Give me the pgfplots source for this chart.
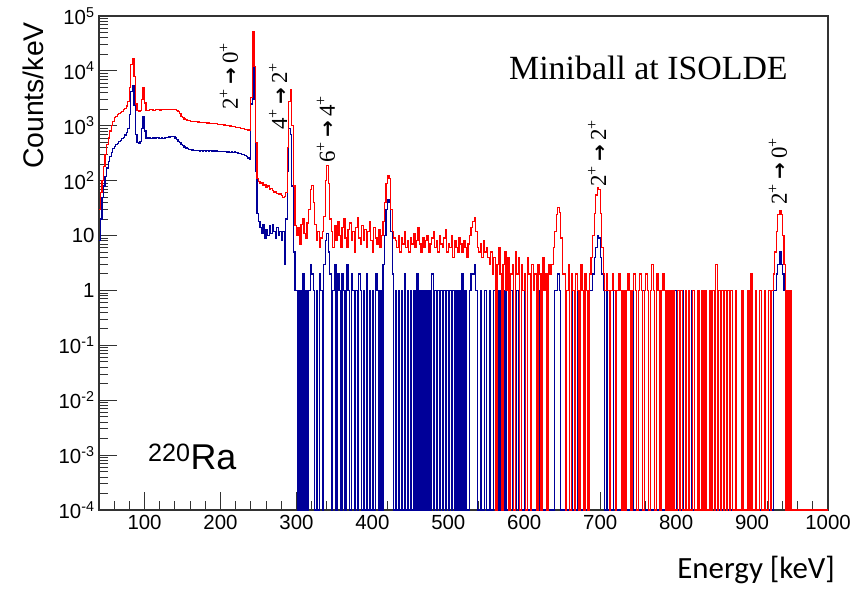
\documentclass[border=0pt]{standalone}
\usepackage{fontspec}
\setmainfont{Liberation Sans}
\newfontfamily\serif{Liberation Serif}
\newfontfamily\calibri{Carlito}
\newfontfamily\dejavu{DejaVu Sans}
\usepackage{pgfplots}
\usepackage{pgfplotstable}
\pgfplotsset{compat=1.18}
\definecolor{rootred}{RGB}{255,0,0}
\definecolor{rootblue}{RGB}{0,0,153}
\definecolor{frame}{RGB}{50,50,50}
\newcommand{\tr}[2]{#1\textsuperscript{+}\hspace{0.18em}{\dejavu\bfseries\fontsize{20}{20}\selectfont →}\hspace{0.18em}#2\textsuperscript{+}}
\pgfplotstableread{
x r b
40 30 8
42 60 20
44 100 50
46 180 80
48 300 120
50 450 170
52 600 220
54 800 280
56 1000 330
58 1200 380
60 1400 420
62 1500 450
64 1600 480
66 1650 510
68 1750 540
70 1850 580
72 1950 620
74 2050 680
76 2300 760
78 2800 900
80 5000 1600
82 13000 4200
84 17000 5300
86 8000 2400
88 2500 700
90 1900 500
92 1800 480
94 1900 520
96 3000 900
98 5000 1450
100 2600 800
102 1900 600
104 1900 600
106 1950 610
108 1960 590
110 1940 620
112 1920 600
114 1950 590
116 1980 610
118 1960 600
120 1940 580
122 1970 610
124 1990 590
126 2000 600
128 1980 615
130 2010 605
132 2000 625
134 2010 640
136 1990 645
138 1980 630
140 1960 600
142 1900 565
144 1800 525
146 1660 490
148 1500 460
150 1400 430
152 1330 410
154 1290 395
156 1260 385
158 1235 375
160 1215 368
162 1200 362
164 1195 355
166 1185 358
168 1180 350
170 1170 356
172 1165 345
174 1150 352
176 1160 348
178 1140 355
180 1135 342
182 1120 350
184 1125 345
186 1110 352
188 1100 340
190 1095 348
192 1085 338
194 1090 346
196 1070 340
198 1060 345
200 1055 335
202 1040 342
204 1030 336
206 1020 340
208 1015 332
210 1000 338
212 990 330
214 980 335
216 970 328
218 955 332
220 945 325
222 930 320
224 920 315
226 905 310
228 890 302
230 880 295
232 865 285
234 850 272
236 840 258
238 825 240
240 3300 2500
242 52000 17000
244 12000 3000
246 500 150
248 110 25
250 95 18
252 90 14
254 92 11
256 82 16
258 86 9
260 76 13
262 80 10
264 70 15
266 72 11
268 66 16
270 62 12
272 64 9
274 58 14
276 56 10
278 57 12
280 53 8
282 50 12
284 52 3
286 60 20
288 400 150
290 2800 900
292 4500 700
294 1000 80
296 80 5
298 15 1
300 10 1
302 14 1e-4
304 7 1
306 16 1e-4
308 20 2
310 11 1e-4
312 9 1
314 17 1e-4
316 30 1
318 70 3
320 83 2
322 40 1
324 16 1e-4
326 8 1
328 12 1e-4
330 6 2
332 9 1
334 12 1e-4
336 22 3
338 100 8
340 190 11
342 90 5
344 20 2
346 12 1e-4
348 6 1
350 15 3
352 8 1e-4
354 18 2
356 10 1
358 6 1e-4
360 14 2
362 20 1
364 9 1e-4
366 6 3
368 13 1
370 17 1e-4
372 8 2
374 12 1
376 5 1e-4
378 14 1
380 21 1e-4
382 9 2
384 7 1
386 15 1e-4
388 8 1
390 13 1e-4
392 6 2
394 12 1e-4
396 18 1
398 8 1e-4
400 5 1
402 14 1e-4
404 9 2
406 7 1
408 13 1e-4
410 6 1
412 10 1e-4
414 18 3
416 40 10
418 90 30
420 125 45
422 110 40
424 30 12
426 12 2
428 9 1e-4
430 8 1
432 6 1e-4
434 10 1
436 5 1e-4
438 9 1
440 7 1e-4
442 12 2
444 6 1e-4
446 8 1
448 5 1e-4
450 9 1
452 7 1e-4
454 11 1
456 6 1e-4
458 8 2
460 14 1e-4
462 7 1
464 5 1e-4
466 9 1
468 6 1e-4
470 8 1
472 10 1e-4
474 5 1
476 7 1e-4
478 9 2
480 12 1e-4
482 6 1
484 8 1e-4
486 5 1
488 10 1e-4
490 7 1
492 6 1e-4
494 9 1
496 13 1e-4
498 5 1
500 7 1e-4
502 6 1
504 10 1e-4
506 4 1
508 8 1e-4
510 6 1
512 5 1e-4
514 9 1
516 7 1e-4
518 5 2
520 8 1e-4
522 6 1
524 4 1e-4
526 7 1e-4
528 10 1
530 14 2
532 18 2
534 21 3
536 12 1
538 6 1e-4
540 5 1e-4
542 7 1
544 4 1e-4
546 8 1e-4
548 5 1
550 6 1e-4
552 4 1e-4
554 3 1
556 5 1e-4
558 2 1e-4
560 4 1
562 1e-4 1e-4
564 3 1e-4
566 6 1
568 2 1e-4
570 1e-4 1e-4
572 3 1e-4
574 5 1
576 1 1e-4
578 4 1e-4
580 1e-4 1e-4
582 2 1
584 3 1e-4
586 1e-4 1e-4
588 5 1e-4
590 2 1
592 4 1e-4
594 1e-4 1e-4
596 3 1e-4
598 1 1e-4
600 2 1
602 1e-4 1e-4
604 4 1e-4
606 2 1e-4
608 1e-4 1
610 3 1e-4
612 1 1e-4
614 2 1e-4
616 1e-4 1e-4
618 3 1
620 2 1e-4
622 1e-4 1e-4
624 4 1e-4
626 1 1e-4
628 2 1e-4
630 1e-4 1
632 3 1e-4
634 2 1e-4
636 3 1e-4
638 6 1e-4
640 12 1
642 24 1
644 32 2
646 26 1
648 9 1e-4
650 2 1e-4
652 2 1e-4
654 1e-4 1
656 1 1e-4
658 3 1e-4
660 1e-4 1e-4
662 2 1
664 1 1e-4
666 1e-4 1e-4
668 2 1e-4
670 1 1
672 1e-4 1e-4
674 3 1e-4
676 1 1e-4
678 1e-4 1
680 2 1e-4
682 1 1e-4
684 1e-4 1e-4
686 2 1
688 4 1
690 10 2
692 25 4
694 55 6
696 74 10
698 70 9
700 25 4
702 6 2
704 2 1
706 1 1e-4
708 2 1
710 1 1e-4
712 1e-4 1e-4
714 1 1e-4
716 2 1e-4
718 1 1
720 1e-4 1e-4
722 1 1e-4
724 2 1e-4
726 1 1e-4
728 1e-4 1
730 1 1e-4
732 1e-4 1e-4
734 1 1e-4
736 2 1e-4
738 1 1e-4
740 1e-4 1e-4
742 1 1
744 2 1e-4
746 1 1e-4
748 1e-4 1e-4
750 1 1e-4
752 2 1e-4
754 1 1e-4
756 1e-4 1
758 1 1e-4
760 2 1e-4
762 1 1e-4
764 1e-4 1e-4
766 1 1e-4
768 3 1e-4
770 1 1e-4
772 1e-4 1e-4
774 2 1e-4
776 1 1e-4
778 1e-4 1e-4
780 1 1e-4
782 2 1e-4
784 1 1e-4
786 1e-4 1e-4
788 1 1e-4
790 1e-4 1
792 1 1e-4
794 1e-4 1e-4
796 1 1e-4
798 1e-4 1
800 1e-4 1e-4
802 1 1e-4
804 1e-4 1
806 1 1e-4
808 1e-4 1
810 1e-4 1e-4
812 1 1e-4
814 1e-4 1e-4
816 1 1e-4
818 1e-4 1e-4
820 1e-4 1
822 1 1e-4
824 1e-4 1e-4
826 1e-4 1e-4
828 1 1e-4
830 1e-4 1e-4
832 1e-4 1e-4
834 1 1e-4
836 1e-4 1e-4
838 1 1e-4
840 1e-4 1e-4
842 1e-4 1e-4
844 1 1e-4
846 1e-4 1e-4
848 1 1
850 1e-4 1e-4
852 3 1e-4
854 1e-4 1e-4
856 1 1e-4
858 1e-4 1e-4
860 1 1e-4
862 1e-4 1e-4
864 1 1
866 1e-4 1e-4
868 1 1e-4
870 1e-4 1e-4
872 1 1e-4
874 1e-4 1e-4
876 1e-4 1e-4
878 1 1e-4
880 1e-4 1e-4
882 1e-4 1e-4
884 1e-4 1e-4
886 1 1e-4
888 1e-4 1e-4
890 1e-4 1e-4
892 1e-4 1e-4
894 1 1e-4
896 1e-4 1e-4
898 2 1e-4
900 1e-4 1e-4
902 1e-4 1e-4
904 1 1e-4
906 1e-4 1e-4
908 1e-4 1e-4
910 1 1e-4
912 1e-4 1e-4
914 1e-4 1e-4
916 1 1e-4
918 1e-4 1e-4
920 1e-4 1e-4
922 1 1e-4
924 1e-4 1
926 1 1e-4
928 2 1
930 5 1
932 12 2
934 24 3
936 29 5
938 24 3
940 10 2
942 3 1
944 1e-4 1e-4
946 1 1e-4
948 1e-4 1
950 1 1e-4
952 1e-4 1e-4
960 1e-4 1e-4
980 1e-4 1e-4
1000 1e-4 1e-4
}\spec
\begin{document}
\begin{tikzpicture}
\useasboundingbox (-99bp,-79bp) rectangle (751bp,510bp);
\begin{axis}[
  at={(0,0)}, anchor=south west,
  scale only axis, width=729bp, height=494bp,
  xmin=40, xmax=1000,
  ymode=log, ymin=1e-4, ymax=1e5,
  xtick={100,200,...,1000},
  xticklabels={100,200,300,400,500,600,700,800,900,1000},
  minor xtick={40,60,...,980},
  ytick={1e-4,1e-3,1e-2,1e-1,1,10,100,1000,10000,100000},
  yticklabels={10\textsuperscript{-4},10\textsuperscript{-3},10\textsuperscript{-2},10\textsuperscript{-1},1,10,10\textsuperscript{2},10\textsuperscript{3},10\textsuperscript{4},10\textsuperscript{5}},
  xtick pos=bottom, ytick pos=left,
  tick align=inside,
  major tick length=18bp, minor tick length=9bp,
  every tick/.style={frame, line width=0.9bp},
  axis line style={frame, line width=1.3bp},
  tick label style={font=\fontsize{20.5}{20.5}\selectfont},
  xticklabel style={yshift=-2bp},
  yticklabel style={xshift=-1bp},
  clip=true,
]
\addplot[const plot, draw=rootblue, line width=1.2bp] table[x=x, y=b] {\spec};
\addplot[const plot, draw=rootred, line width=1.2bp] table[x=x, y=r] {\spec};
\end{axis}
\node[rotate=90, anchor=south east, inner sep=0pt, font=\fontsize{28.5}{28.5}\selectfont] at (-55bp,488bp) {Counts/keV};
\node[anchor=base east, inner sep=0pt, font=\calibri\fontsize{31}{31}\selectfont] at (736bp,-68bp) {Energy [keV]};
\node[anchor=base west, inner sep=0pt, font=\serif\fontsize{34}{34}\selectfont] at (410bp,430bp) {Miniball at ISOLDE};
\node[anchor=base west, inner sep=0pt, font=\fontsize{36}{36}\selectfont] at (49bp,40bp) {\textsuperscript{220}Ra};
\begin{scope}[every node/.style={rotate=90, anchor=west, inner sep=0pt, font=\serif\fontsize{23}{23}\selectfont}]
\node at (130bp,400bp) {\tr{2}{0}};
\node at (179bp,380bp) {\tr{4}{2}};
\node at (227bp,347bp) {\tr{6}{4}};
\node at (498bp,323bp) {\tr{2}{2}};
\node at (679bp,305bp) {\tr{2}{0}};
\end{scope}
\end{tikzpicture}
\end{document}
